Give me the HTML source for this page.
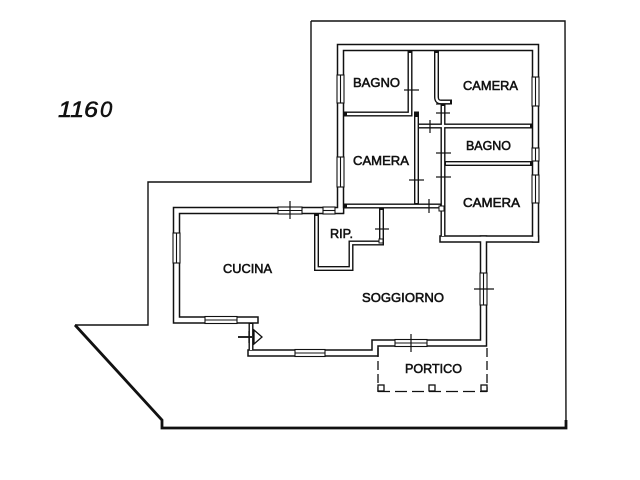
<!DOCTYPE html>
<html><head><meta charset="utf-8"><style>
html,body{margin:0;padding:0;background:#fff;}
svg{display:block;}
text{font-family:"Liberation Sans",sans-serif;fill:#111;stroke:#111;stroke-width:0.55;}
</style></head><body>
<svg width="640" height="480" viewBox="0 0 640 480" xmlns="http://www.w3.org/2000/svg">
<rect width="640" height="480" fill="#fff"/>
<!-- lot line -->
<path d="M311,21 L565,21 L566,427 M162,427 L162,420 M75,325 L148,325 L148,182 L311,182 L311,21" fill="none" stroke="#111" stroke-width="1.4"/>
<path d="M75,325 L162,420 L162,428 L566,428 L566,420" fill="none" stroke="#111" stroke-width="2.8"/>

<!-- walls: black thick then white -->
<g fill="none" stroke-linecap="square" stroke-linejoin="miter">
<g stroke="#111">
 <g stroke-width="7.5">
  <path d="M340.5,210 L340.5,47.5 L535.5,47.5 L535.5,239"/>
  <path d="M443,239 L535.5,239"/>
  <path d="M340.5,210.5 L176.5,210.5 L176.5,320 L255,320"/>
  <path d="M483.5,239 L483.5,343 L375,343 L375,353 L251,353"/>
 </g>
 <g stroke-width="5">
  <path d="M251,322 L251,353"/>
  <path d="M410,50 L410,114 L344,114"/>
  <path d="M416.5,114 L416.5,206"/>
  <path d="M416.5,126 L532,126"/>
  <path d="M443,103 L443,239"/>
  <path d="M443,163.5 L532,163.5"/>
  <path d="M344,206 L443,206"/>
  <path d="M316.5,213 L316.5,268.5 L351,268.5 L351,243 L381.5,243 L381.5,207"/>
 </g>
 <path d="M436.5,51 L436.5,97 Q436.5,102 441,102 L452,102" stroke-width="5" stroke-linecap="butt"/>
</g>
<g stroke="#fff">
 <g stroke-width="4.5">
  <path d="M340.5,210 L340.5,47.5 L535.5,47.5 L535.5,239"/>
  <path d="M443,239 L535.5,239"/>
  <path d="M340.5,210.5 L176.5,210.5 L176.5,320 L255,320"/>
  <path d="M483.5,239 L483.5,343 L375,343 L375,353 L251,353"/>
 </g>
 <g stroke-width="2.2" stroke-linecap="butt">
  <path d="M251,324 L251,350"/>
  <path d="M410,53 L410,114 L347,114"/>
  <path d="M416.5,117 L416.5,203"/>
  <path d="M419,126 L530,126"/>
  <path d="M443,106 L443,236"/>
  <path d="M446,163.5 L530,163.5"/>
  <path d="M347,206 L440,206"/>
  <path d="M316.5,216 L316.5,268.5 L351,268.5 L351,243 L381.5,243 L381.5,210"/>
 </g>
 <path d="M436.5,53 L436.5,97 Q436.5,102 441,102 L450,102" stroke-width="2.2" stroke-linecap="butt"/>
</g>
</g>

<!-- windows -->
<g fill="#fff" stroke="#111" stroke-width="1.1">
 <rect x="337" y="75" width="7" height="28"/><line x1="340.5" y1="75" x2="340.5" y2="103"/>
 <rect x="337" y="157" width="7" height="30"/><line x1="340.5" y1="157" x2="340.5" y2="187"/>
 <rect x="532" y="77" width="7" height="29"/><line x1="535.5" y1="77" x2="535.5" y2="106"/>
 <rect x="532" y="148" width="7" height="13"/><line x1="535.5" y1="148" x2="535.5" y2="161"/>
 <rect x="532" y="175" width="7" height="28"/><line x1="535.5" y1="175" x2="535.5" y2="203"/>
 <rect x="173" y="233" width="7" height="30"/><line x1="176.5" y1="233" x2="176.5" y2="263"/>
 <rect x="480" y="273" width="7" height="32"/><line x1="483.5" y1="273" x2="483.5" y2="305"/>
 <rect x="278" y="207" width="24" height="7"/><line x1="278" y1="210.5" x2="302" y2="210.5"/>
 <rect x="323" y="207" width="12" height="7"/><line x1="323" y1="210.5" x2="335" y2="210.5"/>
 <rect x="205" y="316.5" width="32" height="7"/><line x1="205" y1="320" x2="237" y2="320"/>
 <rect x="295" y="349.5" width="30" height="7"/><line x1="295" y1="353" x2="325" y2="353"/>
 <rect x="395" y="339.5" width="32" height="7"/><line x1="395" y1="343" x2="427" y2="343"/>
</g>

<!-- door crosses -->
<g stroke="#111" stroke-width="1.2">
 <line x1="404" y1="90" x2="419" y2="90"/>
 <line x1="436" y1="104" x2="450" y2="104"/>
 <line x1="436" y1="113" x2="450" y2="113"/>
 <line x1="430" y1="120" x2="430" y2="133"/>
 <line x1="436" y1="153" x2="451" y2="153"/>
 <line x1="436" y1="177" x2="451" y2="177"/>
 <line x1="409" y1="180" x2="424" y2="180"/>
 <line x1="429" y1="199" x2="429" y2="213"/>
 <line x1="290" y1="201" x2="290" y2="219"/>
 <line x1="375" y1="229" x2="389" y2="229"/>
 <line x1="474" y1="289" x2="494" y2="289"/>
 <line x1="411" y1="334" x2="411" y2="352"/>
</g>
<rect x="439" y="206" width="5" height="5" fill="#fff" stroke="#111" stroke-width="1"/>
<rect x="379" y="239" width="4" height="4" fill="#fff" stroke="#111" stroke-width="1"/>

<!-- entrance -->
<g stroke="#111" stroke-width="1.3" fill="#fff">
 <path d="M254,330 L262,337 L254,344 Z"/>
 <line x1="238" y1="337" x2="252" y2="337" stroke-width="1.8"/>
 <line x1="249" y1="331" x2="249" y2="343"/>
</g>

<!-- portico -->
<g stroke="#111" stroke-width="1.3" fill="none">
 <path d="M378,348 L378,392 M487,348 L487,392" stroke-dasharray="9 4"/>
 <path d="M378,391.5 L487,391.5" stroke-dasharray="12 5"/>
 <rect x="378" y="385" width="6" height="6" fill="#fff"/>
 <rect x="429" y="385" width="6" height="6" fill="#fff"/>
 <rect x="481" y="385" width="6" height="6" fill="#fff"/>
</g>

<!-- labels -->
<g font-size="13">
 <text x="353" y="87" textLength="47" lengthAdjust="spacingAndGlyphs">BAGNO</text>
 <text x="463" y="90" textLength="55" lengthAdjust="spacingAndGlyphs">CAMERA</text>
 <text x="466" y="150" textLength="45" lengthAdjust="spacingAndGlyphs">BAGNO</text>
 <text x="353" y="165" textLength="56" lengthAdjust="spacingAndGlyphs">CAMERA</text>
 <text x="463" y="207" textLength="57" lengthAdjust="spacingAndGlyphs">CAMERA</text>
 <text x="330" y="238" textLength="23" lengthAdjust="spacingAndGlyphs">RIP.</text>
 <text x="223" y="273" textLength="49" lengthAdjust="spacingAndGlyphs">CUCINA</text>
 <text x="362" y="302" textLength="82" lengthAdjust="spacingAndGlyphs">SOGGIORNO</text>
 <text x="405" y="373" textLength="57" lengthAdjust="spacingAndGlyphs">PORTICO</text>
</g>
<text x="58" y="117" font-size="22" font-style="italic" stroke-width="0" textLength="40" lengthAdjust="spacingAndGlyphs">116</text>
<text x="100" y="117" font-size="22" font-style="italic" stroke-width="0">0</text>
</svg>
</body></html>
